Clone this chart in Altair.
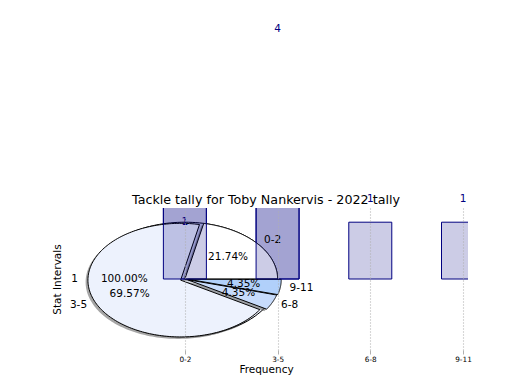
import json
import altair as alt
import pandas as pd

# ---- data ----
categories = ["0-2", "3-5", "6-8", "9-11"]
tally = [5, 16, 1, 1]            # pie wedges (21.74%, 69.57%, 4.35%, 4.35%)
explode = [0.0, 0.05, 0.03, 0.04]
wedge_colors = ["#ffffff", "#edf2fd", "#c7dbfb", "#b1d0fa"]

total_labels = ["1"]
total_counts = [1]               # the single 100% pie behind

bar_front = [5, 16, 1, 1]        # bars drawn over the pie
bar_back = [5, 16, 0, 0]         # bars drawn under the pie

# value labels: one written on its level, the others written above it
inner_label_cats = ["0-2"]
inner_label_vals = [1]
top_label_cats = ["3-5", "6-8", "9-11"]
top_label_vals = [4, 1, 1]

title = "Tackle tally for Toby Nankervis - 2022 tally"
FONT = "DejaVu Sans"
NAVY = "#000080"
STEPS = 160
W, H = 404, 142

label_expr = json.dumps(categories) + "[datum.value]"

X = alt.X("px:Q",
          scale=alt.Scale(domain=[-1.25, 3], nice=False, zero=False),
          axis=alt.Axis(values=list(range(len(categories))), labelExpr=label_expr,
                        title="Frequency", grid=True, gridDash=[1, 2], gridColor="#b0b0b0",
                        gridWidth=1.1, domain=False, tickColor="#b0b0b0", tickSize=4,
                        labelFontSize=7.3, labelPadding=1, labelColor="black",
                        titleFontSize=10.5, titlePadding=2, titleFontWeight="normal",
                        titleColor="black", zindex=1))
Y = alt.Y("py:Q",
          scale=alt.Scale(domain=[-1.25, 1.25], nice=False, zero=False),
          axis=alt.Axis(title="Stat Intervals", labels=False, ticks=False, domain=False,
                        grid=False, titleFontSize=10.5, titlePadding=2,
                        titleFontWeight="normal", titleColor="black"))


def pie_base(df):
    return (alt.Chart(df)
            .transform_joinaggregate(total="sum(count)")
            .transform_window(cum="sum(count)", sort=[alt.SortField("k")], frame=[None, 0])
            .transform_calculate(
                a0="2*PI*(datum.cum-datum.count)/datum.total",
                a1="2*PI*datum.cum/datum.total")
            .transform_calculate(mid="(datum.a0+datum.a1)/2")
            .transform_calculate(ox="datum.explode*cos(datum.mid)",
                                 oy="datum.explode*sin(datum.mid)"))


def wedges(df, colors, domain, sx=0.0, sy=0.0, shadow=False):
    base = (pie_base(df)
            .transform_calculate(steps=f"sequence(-1, {STEPS + 2})")
            .transform_flatten(["steps"])
            .transform_calculate(
                ang=f"datum.a0+(datum.a1-datum.a0)*clamp(datum.steps,0,{STEPS})/{STEPS}",
                rim=f"datum.steps>=0 && datum.steps<={STEPS} ? 1 : 0")
            .transform_calculate(
                px=f"{sx}+datum.ox+datum.rim*cos(datum.ang)",
                py=f"{sy}+datum.oy+datum.rim*sin(datum.ang)"))
    if shadow:
        return base.mark_line(fill="#4d4d4d", fillOpacity=0.5, strokeOpacity=0).encode(
            x=X, y=Y, order="steps:Q", detail="label:N")
    return base.mark_line(stroke="black", strokeWidth=1, strokeJoin="round").encode(
        x=X, y=Y, order="steps:Q", detail="label:N",
        fill=alt.Fill("label:N", scale=alt.Scale(domain=domain, range=colors), legend=None))


def pie_texts(df, dx=0):
    base = pie_base(df).transform_calculate(
        c="cos(datum.mid)", s="sin(datum.mid)")
    lab = base.transform_calculate(px="datum.ox+1.1*datum.c", py="datum.oy+1.1*datum.s")
    left = lab.transform_filter("datum.c > 0").mark_text(
        align="left", baseline="middle", fontSize=10.5, color="black", dx=dx).encode(
        x=X, y=Y, text="label:N")
    right = lab.transform_filter("datum.c <= 0").mark_text(
        align="right", baseline="middle", fontSize=10.5, color="black", dx=dx).encode(
        x=X, y=Y, text="label:N")
    pct = (base.transform_calculate(px="datum.ox+0.6*datum.c", py="datum.oy+0.6*datum.s",
                                    pct="format(datum.count/datum.total, '.2%')")
           .mark_text(align="center", baseline="middle", fontSize=10.5, color="black", dx=dx)
           .encode(x=X, y=Y, text="pct:N"))
    return [left, right, pct]


main_df = pd.DataFrame({"k": range(len(categories)), "label": categories,
                        "count": tally, "explode": explode})
total_df = pd.DataFrame({"k": range(len(total_labels)), "label": total_labels,
                         "count": total_counts, "explode": [0.0] * len(total_labels)})

idx = list(range(len(categories)))
front_df = pd.DataFrame({"px": idx, "py": bar_front})
back_df = pd.DataFrame({"px": idx, "py": bar_back})
inner_df = pd.DataFrame({"px": [categories.index(c) for c in inner_label_cats],
                         "py": inner_label_vals})
top_df = pd.DataFrame({"px": [categories.index(c) for c in top_label_cats],
                       "py": top_label_vals})


def bars(df):
    return (alt.Chart(df).transform_filter("datum.py > 0").transform_calculate(py0="0")
            .mark_bar(size=43, orient="vertical", clip=True, fill=NAVY, fillOpacity=0.2,
                      stroke=NAVY, strokeWidth=1)
            .encode(x=X, y=Y, y2=alt.Y2("py0:Q")))


def value_text(df, dy):
    return alt.Chart(df).mark_text(
        color=NAVY, fontSize=10.5, baseline="middle", dy=dy).encode(x=X, y=Y, text="py:N")


title_text = alt.Chart(pd.DataFrame({"t": [title]})).mark_text(
    fontSize=12.7, color="black", align="center", baseline="middle").encode(
    text="t:N", x=alt.value(W / 2), y=alt.value(-8))

layers = [
    wedges(total_df, ["#edf2fd"], total_labels, -0.025, -0.035, shadow=True),
    wedges(total_df, ["#edf2fd"], total_labels),
    bars(back_df),
    wedges(main_df, wedge_colors, categories, -0.025, -0.035, shadow=True),
    wedges(main_df, wedge_colors, categories),
    bars(front_df),
] + pie_texts(total_df, dx=-5) + pie_texts(main_df) + [
    value_text(inner_df, 0), value_text(top_df, -23), title_text]

chart = (alt.layer(*layers)
         .resolve_scale(fill="independent")
         .properties(width=W, height=H,
                     padding={"left": 56, "top": 200, "right": 44, "bottom": 32},
                     autosize=alt.AutoSizeParams(type="none"))
         .configure(font=FONT)
         .configure_view(stroke=None))

chart.save("out.html", embed_options={"renderer": "svg", "actions": False})
